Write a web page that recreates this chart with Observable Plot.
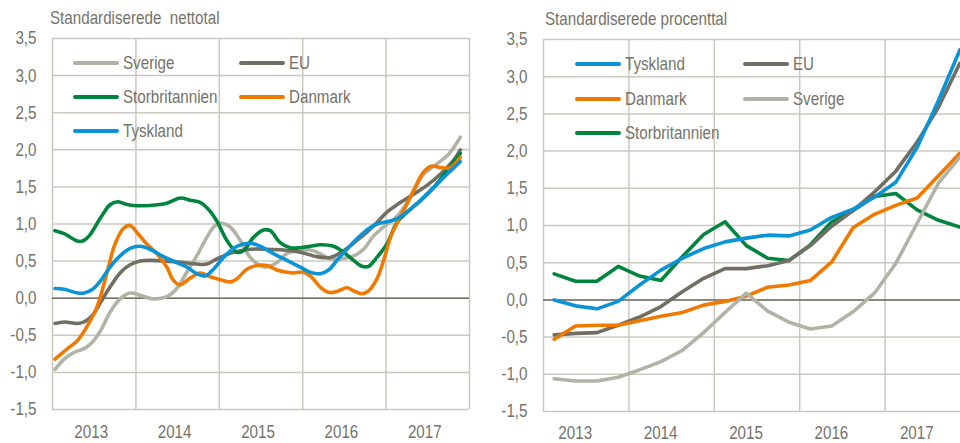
<!DOCTYPE html>
<html><head><meta charset="utf-8">
<script src="https://cdn.jsdelivr.net/npm/d3@7"></script>
<script src="https://cdn.jsdelivr.net/npm/@observablehq/plot@0.6"></script>
<style>
html,body{margin:0;padding:0;background:#fff;overflow:hidden;}
#wrap{position:relative;width:960px;height:443px;overflow:hidden;font-family:"Liberation Sans",Arial,sans-serif;color:#74736a;}
.panel{position:absolute;top:0;height:443px;}
.panel svg{max-width:none !important;}
.title{position:absolute;font-size:18.5px;line-height:20px;white-space:pre;transform:scaleX(0.82);transform-origin:left center;}
.leg{position:absolute;display:flex;align-items:center;height:20px;font-size:18.5px;white-space:nowrap;}
.leg .sw{display:inline-block;width:46px;height:4px;border-radius:2px;margin-right:4px;}
.leg .lab{display:inline-block;transform:scaleX(0.82);transform-origin:left center;}
</style></head><body><div id="wrap"></div>
<script>
// ---------- data ----------
const colors = {Sverige:"#b3b2a6", EU:"#716f63", Storbritannien:"#00853f", Danmark:"#f07a00", Tyskland:"#0a93d6"};
const yTicks = [-1.5,-1,-0.5,0,0.5,1,1.5,2,2.5,3,3.5];
const yearBounds = [2013,2014,2015,2016,2017,2018];
const yearMids = [2013.5,2014.5,2015.5,2016.5,2017.5];
const yearLabels = ["2013","2014","2015","2016","2017"];

// Left panel: standardiserede nettotal, [decimal year, value]
const nettoSverige = [[2013.03,-0.96],[2013.14,-0.82],[2013.26,-0.73],[2013.38,-0.68],[2013.48,-0.59],[2013.58,-0.43],[2013.69,-0.19],[2013.81,-0.01],[2013.93,0.07],[2014.05,0.04],[2014.21,-0.01],[2014.37,0.02],[2014.49,0.13],[2014.61,0.35],[2014.73,0.57],[2014.85,0.82],[2014.95,0.98],[2015.03,1.01],[2015.13,0.96],[2015.25,0.78],[2015.37,0.55],[2015.49,0.44],[2015.57,0.42],[2015.69,0.48],[2015.81,0.60],[2015.97,0.65],[2016.09,0.65],[2016.21,0.60],[2016.33,0.53],[2016.45,0.53],[2016.61,0.57],[2016.73,0.66],[2016.85,0.84],[2016.97,0.96],[2017.13,1.10],[2017.29,1.36],[2017.45,1.67],[2017.61,1.81],[2017.75,1.94],[2017.89,2.17]];
const nettoEU = [[2013.03,-0.34],[2013.14,-0.32],[2013.30,-0.34],[2013.38,-0.32],[2013.48,-0.23],[2013.58,-0.05],[2013.69,0.15],[2013.81,0.34],[2013.93,0.45],[2014.05,0.50],[2014.17,0.51],[2014.37,0.50],[2014.57,0.48],[2014.73,0.46],[2014.85,0.46],[2014.97,0.53],[2015.17,0.62],[2015.37,0.66],[2015.57,0.66],[2015.77,0.65],[2015.97,0.62],[2016.17,0.56],[2016.33,0.55],[2016.49,0.64],[2016.65,0.78],[2016.77,0.89],[2016.89,1.02],[2017.01,1.16],[2017.17,1.29],[2017.33,1.40],[2017.49,1.52],[2017.65,1.67],[2017.81,1.86],[2017.89,2.00]];
const nettoStorbritannien = [[2013.03,0.91],[2013.14,0.87],[2013.30,0.77],[2013.36,0.77],[2013.44,0.84],[2013.58,1.09],[2013.69,1.26],[2013.78,1.30],[2013.87,1.27],[2013.97,1.25],[2014.17,1.25],[2014.37,1.28],[2014.53,1.35],[2014.65,1.32],[2014.77,1.29],[2014.87,1.20],[2014.97,1.04],[2015.09,0.78],[2015.21,0.62],[2015.29,0.64],[2015.41,0.82],[2015.53,0.92],[2015.61,0.91],[2015.73,0.75],[2015.85,0.68],[2015.97,0.68],[2016.09,0.70],[2016.21,0.72],[2016.37,0.70],[2016.49,0.62],[2016.61,0.51],[2016.71,0.43],[2016.79,0.43],[2016.89,0.55],[2017.01,0.73],[2017.13,1.02],[2017.25,1.16],[2017.41,1.31],[2017.57,1.49],[2017.73,1.72],[2017.89,1.95]];
const nettoDanmark = [[2013.03,-0.82],[2013.18,-0.68],[2013.30,-0.57],[2013.42,-0.37],[2013.54,-0.10],[2013.65,0.33],[2013.75,0.73],[2013.85,0.94],[2013.93,0.98],[2014.01,0.89],[2014.13,0.73],[2014.25,0.60],[2014.37,0.42],[2014.45,0.24],[2014.53,0.18],[2014.65,0.27],[2014.77,0.34],[2014.89,0.29],[2015.01,0.25],[2015.13,0.22],[2015.21,0.26],[2015.33,0.39],[2015.45,0.44],[2015.57,0.44],[2015.69,0.38],[2015.81,0.35],[2015.89,0.34],[2016.01,0.35],[2016.11,0.28],[2016.21,0.15],[2016.31,0.08],[2016.41,0.09],[2016.53,0.14],[2016.61,0.10],[2016.71,0.06],[2016.79,0.10],[2016.89,0.26],[2016.97,0.51],[2017.07,0.87],[2017.21,1.18],[2017.33,1.45],[2017.45,1.70],[2017.55,1.78],[2017.65,1.76],[2017.77,1.76],[2017.85,1.84],[2017.89,1.90]];
const nettoTyskland = [[2013.03,0.13],[2013.14,0.12],[2013.30,0.07],[2013.38,0.07],[2013.48,0.12],[2013.58,0.24],[2013.69,0.42],[2013.81,0.57],[2013.93,0.67],[2014.05,0.70],[2014.17,0.66],[2014.33,0.56],[2014.49,0.48],[2014.61,0.42],[2014.73,0.33],[2014.83,0.30],[2014.93,0.39],[2015.05,0.55],[2015.21,0.70],[2015.37,0.74],[2015.49,0.70],[2015.65,0.60],[2015.81,0.51],[2015.97,0.42],[2016.09,0.35],[2016.21,0.33],[2016.31,0.38],[2016.41,0.51],[2016.53,0.66],[2016.65,0.80],[2016.77,0.92],[2016.89,1.00],[2017.01,1.03],[2017.13,1.07],[2017.25,1.16],[2017.41,1.32],[2017.57,1.49],[2017.73,1.67],[2017.89,1.84]];

// Right panel: standardiserede procenttal, quarterly 2013K1-2017K4
const quarters = [2013.125,2013.375,2013.625,2013.875,2014.125,2014.375,2014.625,2014.875,2015.125,2015.375,2015.625,2015.875,2016.125,2016.375,2016.625,2016.875,2017.125,2017.375,2017.625,2017.875];
const procTyskland = [0.00,-0.08,-0.12,-0.02,0.20,0.40,0.56,0.69,0.78,0.83,0.87,0.86,0.94,1.11,1.22,1.38,1.58,2.05,2.68,3.36];
const procEU = [-0.47,-0.45,-0.44,-0.34,-0.23,-0.09,0.11,0.29,0.42,0.42,0.46,0.53,0.73,0.99,1.20,1.45,1.73,2.12,2.59,3.18];
const procDanmark = [-0.53,-0.35,-0.34,-0.34,-0.28,-0.22,-0.17,-0.07,-0.02,0.05,0.17,0.20,0.26,0.51,0.97,1.15,1.27,1.37,1.67,1.97];
const procSverige = [-1.06,-1.09,-1.09,-1.04,-0.94,-0.83,-0.68,-0.44,-0.17,0.09,-0.15,-0.30,-0.39,-0.35,-0.16,0.09,0.49,1.03,1.57,1.92];
const procStorbritannien = [0.35,0.25,0.25,0.45,0.32,0.26,0.58,0.88,1.05,0.73,0.56,0.53,0.74,1.05,1.20,1.39,1.43,1.21,1.07,0.98];

// ---------- drawing ----------
const FONT = '"Liberation Sans",Arial,sans-serif';
const NARROW = 0.82;
const TXT = "#74736a", GRID = "#cac8bf", ZERO = "#6f6e63";
const fmtY = d => (Math.abs(d) < 1e-9 ? 0 : d).toFixed(1).replace(".", ",");
const fmtX = d => yearLabels[yearMids.indexOf(d)];

function makePanel(series, curve, m) {
  return Plot.plot({
    width: m.width, height: 443,
    marginLeft: m.ml, marginRight: m.mr, marginTop: m.mt, marginBottom: m.mb,
    x: {domain: [2013, 2018]},
    y: {domain: [-1.5, 3.5]},
    style: {fontFamily: FONT, fontSize: "18.5px", color: TXT, background: "transparent", maxWidth: "none"},
    marks: [
      Plot.gridY(yTicks, {stroke: GRID, strokeOpacity: 1, strokeWidth: 1.5}),
      Plot.gridX(yearBounds, {stroke: GRID, strokeOpacity: 1, strokeWidth: 1.5}),
      Plot.ruleY([0], {stroke: ZERO, strokeWidth: 1.5}),
      ...series.map(([name, data]) => Plot.line(data, {x: d => d[0], y: d => d[1], stroke: colors[name], strokeWidth: 3.6, curve, strokeLinejoin: "round", strokeLinecap: "round"})),
      Plot.axisY(yTicks, {tickSize: 0, tickPadding: m.yPad, tickFormat: fmtY, fill: TXT, label: null}),
      Plot.axisX(yearMids, {tickSize: 0, tickPadding: m.xPad, tickFormat: fmtX, fill: TXT, label: null, dx: m.xDx})
    ]
  });
}

function narrowText(svg) {
  svg.querySelectorAll("text").forEach(t => {
    const L = t.getComputedTextLength();
    if (L > 0) {
      t.setAttribute("textLength", (L * NARROW).toFixed(2));
      t.setAttribute("lengthAdjust", "spacingAndGlyphs");
    }
  });
}

const wrap = document.getElementById("wrap");

function addLegend(host, items) {
  for (const [name, left, top] of items) {
    const d = document.createElement("div");
    d.className = "leg";
    d.style.left = left + "px"; d.style.top = top + "px";
    d.innerHTML = `<span class="sw" style="background:${colors[name]}"></span><span class="lab">${name}</span>`;
    host.appendChild(d);
  }
}

// left panel
const leftHost = document.createElement("div");
leftHost.className = "panel"; leftHost.style.left = "0px"; leftHost.style.width = "480px";
wrap.appendChild(leftHost);
const svgL = makePanel(
  [["Sverige", nettoSverige], ["EU", nettoEU], ["Storbritannien", nettoStorbritannien], ["Danmark", nettoDanmark], ["Tyskland", nettoTyskland]],
  "catmull-rom",
  {width: 480, ml: 52, mr: 11, mt: 38, mb: 34, yPad: 16, xPad: 15, xDx: -3}
);
leftHost.appendChild(svgL);
narrowText(svgL);
const t1 = document.createElement("div"); t1.className = "title";
t1.style.left = "50px"; t1.style.top = "8px"; t1.textContent = "Standardiserede  nettotal";
leftHost.appendChild(t1);
addLegend(leftHost, [["Sverige", 73, 53], ["EU", 239, 53], ["Storbritannien", 73, 87], ["Danmark", 239, 87], ["Tyskland", 73, 121]]);

// right panel (plot area runs past the right edge of the page and is cut off there)
const rightHost = document.createElement("div");
rightHost.className = "panel"; rightHost.style.left = "480px"; rightHost.style.width = "495px";
wrap.appendChild(rightHost);
const pair = arr => quarters.map((q, i) => [q, arr[i]]);
const svgR = makePanel(
  [["Storbritannien", pair(procStorbritannien)], ["EU", pair(procEU)], ["Danmark", pair(procDanmark)], ["Tyskland", pair(procTyskland)], ["Sverige", pair(procSverige)]],
  "linear",
  {width: 495, ml: 63, mr: 5, mt: 39, mb: 32, yPad: 16, xPad: 14, xDx: -11}
);
rightHost.appendChild(svgR);
narrowText(svgR);
const t2 = document.createElement("div"); t2.className = "title";
t2.style.left = "65px"; t2.style.top = "9px"; t2.textContent = "Standardiserede procenttal";
rightHost.appendChild(t2);
addLegend(rightHost, [["Tyskland", 95, 54], ["EU", 263, 54], ["Danmark", 95, 89], ["Sverige", 263, 89], ["Storbritannien", 95, 123]]);
</script></body></html>
